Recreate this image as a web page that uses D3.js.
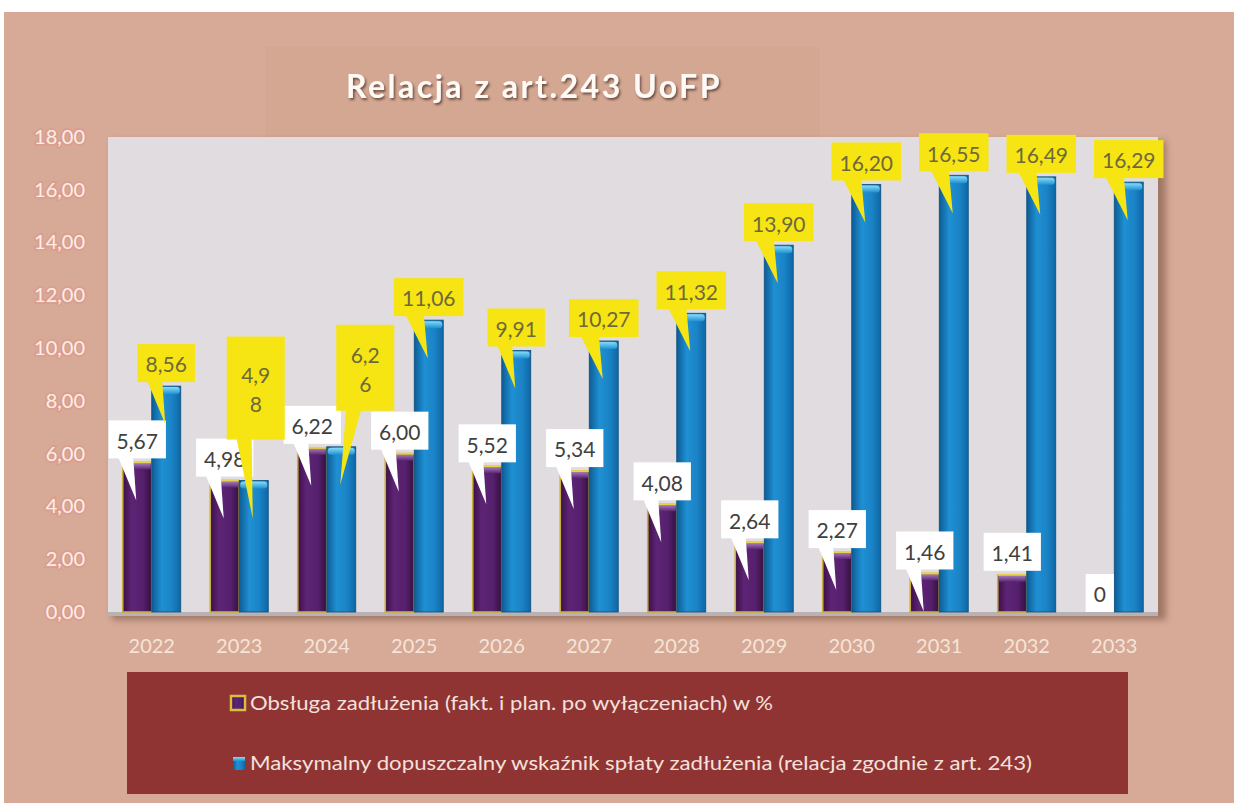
<!DOCTYPE html>
<html>
<head>
<meta charset="utf-8">
<script src="https://cdn.jsdelivr.net/npm/d3@7"></script>
<style>
    body { margin: 0; background: #ffffff; }
    svg text { font-family: Lato, "Open Sans", "DejaVu Sans", sans-serif; }
</style>
</head>
<body>
<svg id="chart" width="1234" height="807"></svg>
<script>
// ---------------------------  DATA  ---------------------------
const years = ['2022', '2023', '2024', '2025', '2026', '2027', '2028', '2029', '2030', '2031', '2032', '2033'];

// Obsługa zadłużenia (fakt. i plan. po wyłączeniach) w %
const obslugaValues = [5.67, 4.98, 6.22, 6.00, 5.52, 5.34, 4.08, 2.64, 2.27, 1.46, 1.41, 0];

// Maksymalny dopuszczalny wskaźnik spłaty zadłużenia
const maxWskaznikValues = [8.56, 4.98, 6.26, 11.06, 9.91, 10.27, 11.32, 13.90, 16.20, 16.55, 16.49, 16.29];

const yTicks = [0, 2, 4, 6, 8, 10, 12, 14, 16, 18];

const seriesNames = [
    'Obsługa zadłużenia (fakt. i plan. po wyłączeniach) w %',
    'Maksymalny dopuszczalny wskaźnik spłaty  zadłużenia (relacja zgodnie z art. 243)'
];

const chartTitle = 'Relacja z art.243 UoFP';

// Hand-placed data labels in the original (wrapped / moved callouts)
const calloutNudges = {
    purple: { '2032': { pointer: false } },
    blue: {
        '2023': { dx: 2, dy: -37, h: 103, wrap: true },
        '2024': { dx: 24, dy: -32, h: 86, wrap: true }
    }
};

// ---------------------------  LAYOUT  ---------------------------
const plot = { left: 108, right: 1158, top: 137, bottom: 612 };
const pairWidth = 58;

const svg = d3.select('#chart');
const defs = svg.append('defs');

function linGrad(id, stops, vertical)
// Add a linear gradient to <defs>; stops are [offset, colour] pairs
{
    const g = defs.append('linearGradient').attr('id', id)
        .attr('x1', 0).attr('y1', 0)
        .attr('x2', vertical ? 0 : 1).attr('y2', vertical ? 1 : 0);
    stops.forEach(s => g.append('stop').attr('offset', s[0]).attr('stop-color', s[1]));
}

linGrad('purpleGrad', [['0%', '#3a0f47'], ['30%', '#5d2475'], ['70%', '#56206d'], ['100%', '#33103e']]);
linGrad('purpleCap', [['0%', '#a27ab8'], ['100%', '#5d2475']], true);
linGrad('blueGrad', [['0%', '#0d5c94'], ['35%', '#1f90d3'], ['70%', '#1a83c5'], ['100%', '#0e67a5']]);
linGrad('blueCap', [['0%', '#86dcf7'], ['100%', '#1f90d3']], true);

const blur = defs.append('filter').attr('id', 'softShadow')
    .attr('x', '-5%').attr('y', '-5%').attr('width', '110%').attr('height', '110%');
blur.append('feGaussianBlur').attr('stdDeviation', 3);

const titleShadow = defs.append('filter').attr('id', 'titleShadow');
titleShadow.append('feDropShadow').attr('dx', 1.5).attr('dy', 2).attr('stdDeviation', 1)
    .attr('flood-color', '#4d3128').attr('flood-opacity', 0.75);

// page background (the scanned slide)
svg.append('rect').attr('x', 4).attr('y', 12).attr('width', 1230).attr('height', 791)
    .attr('fill', '#d6aa96');

// title panel, barely darker than the slide
svg.append('rect').attr('x', 265).attr('y', 47).attr('width', 555).attr('height', 90)
    .attr('fill', '#d3a792');

svg.append('text')
    .attr('x', 534).attr('y', 98)
    .attr('text-anchor', 'middle')
    .style('font-size', '32px').style('font-weight', 700).style('letter-spacing', '2.5px')
    .attr('fill', '#fffaf5')
    .attr('filter', 'url(#titleShadow)')
    .text(chartTitle);

// plot area with shadow and floor
svg.append('rect')
    .attr('x', plot.left + 4).attr('y', plot.top + 4)
    .attr('width', plot.right - plot.left + 4).attr('height', plot.bottom - plot.top + 4)
    .attr('fill', '#8a6252').attr('opacity', 0.7).attr('filter', 'url(#softShadow)');

svg.append('rect')
    .attr('x', plot.left).attr('y', plot.top)
    .attr('width', plot.right - plot.left).attr('height', plot.bottom - plot.top)
    .attr('fill', '#e0dcdf');

svg.append('rect')
    .attr('x', plot.left).attr('y', plot.bottom)
    .attr('width', plot.right - plot.left).attr('height', 4)
    .attr('fill', '#b9b2b4');

// ---------------------------  SCALES  ---------------------------
const x0 = d3.scaleBand().domain(years).range([plot.left, plot.right]);
const x1 = d3.scaleBand().domain(['purple', 'blue']).range([0, pairWidth]);
const y = d3.scaleLinear().domain([0, 18]).range([plot.bottom, plot.top]);

const groupPad = (x0.bandwidth() - pairWidth) / 2;

function barX(year, key) { return x0(year) + groupPad + x1(key); }
function barCenter(year, key) { return barX(year, key) + x1.bandwidth() / 2; }

function fmtValue(v)
// Excel style, comma decimal; zero is printed plain
{
    return v === 0 ? '0' : v.toFixed(2).replace('.', ',');
}

// ---------------------------  AXES  ---------------------------
const yAxis = svg.append('g')
    .attr('transform', `translate(${plot.left},0)`)
    .call(d3.axisLeft(y).tickValues(yTicks).tickSize(0).tickPadding(23)
        .tickFormat(d => d3.format('.2f')(d).replace('.', ',')));
yAxis.select('.domain').remove();
yAxis.selectAll('text')
    .style('font-size', '20px')
    .attr('fill', '#fdeee7')
    .attr('stroke', '#e58d86').attr('stroke-width', 4).attr('stroke-opacity', 0.4)
    .style('paint-order', 'stroke');

const xAxis = svg.append('g')
    .attr('transform', `translate(0,${plot.bottom})`)
    .call(d3.axisBottom(x0).tickSize(0).tickPadding(27));
xAxis.select('.domain').remove();
xAxis.selectAll('text')
    .style('font-size', '20px')
    .attr('fill', '#f7e4d9');

// ---------------------------  BARS  ---------------------------
const purpleData = years.map((yr, i) => ({ year: yr, v: obslugaValues[i] }));
const blueData = years.map((yr, i) => ({ year: yr, v: maxWskaznikValues[i] }));

const bars = svg.append('g').attr('class', 'bars');

const pBars = bars.selectAll('g.purple').data(purpleData.filter(d => d.v > 0)).join('g').attr('class', 'purple');
pBars.append('rect')
    .attr('x', d => barX(d.year, 'purple')).attr('y', d => y(d.v))
    .attr('width', x1.bandwidth()).attr('height', d => y(0) - y(d.v))
    .attr('fill', 'url(#purpleGrad)')
    .attr('stroke', '#c9ae3a').attr('stroke-width', 1.6);
pBars.append('rect')
    .attr('x', d => barX(d.year, 'purple') + 1).attr('y', d => y(d.v) + 1)
    .attr('width', x1.bandwidth() - 2).attr('height', 6)
    .attr('fill', 'url(#purpleCap)');
pBars.append('line')
    .attr('x1', d => barX(d.year, 'purple')).attr('x2', d => barX(d.year, 'purple') + x1.bandwidth())
    .attr('y1', d => y(d.v)).attr('y2', d => y(d.v))
    .attr('stroke', '#e8d24a').attr('stroke-width', 2);

const bBars = bars.selectAll('g.blue').data(blueData).join('g').attr('class', 'blue');
bBars.append('rect')
    .attr('x', d => barX(d.year, 'blue')).attr('y', d => y(d.v))
    .attr('width', x1.bandwidth()).attr('height', d => y(0) - y(d.v))
    .attr('fill', 'url(#blueGrad)')
    .attr('stroke', '#0b4d7d').attr('stroke-width', 0.8);
bBars.append('rect')
    .attr('x', d => barX(d.year, 'blue') + 1).attr('y', d => y(d.v) + 1)
    .attr('width', x1.bandwidth() - 2).attr('height', 7)
    .attr('rx', 3)
    .attr('fill', 'url(#blueCap)');

// ---------------------------  CALLOUTS  ---------------------------
const calloutLayer = svg.append('g').attr('class', 'callouts');

function drawCallout(d, key, style)
/*  Draw one Excel "callout" data label: a box above the bar top with a
    triangular pointer reaching down into the bar
 */
{
    const n = (calloutNudges[key] || {})[d.year] || {};
    const text = fmtValue(d.v);
    const lines = n.wrap ? [text.slice(0, 3), text.slice(3)] : [text];

    const probe = calloutLayer.append('text').style('font-size', '21px').text(lines[0]);
    const tw = probe.node().getComputedTextLength();
    probe.remove();

    const w = n.wrap ? 58 : tw + 16;
    const h = n.h || 38;
    const cBar = barCenter(d.year, key);
    const top = y(d.v);
    const cx = cBar + (n.dx || 0);
    const bottom = d.v === 0 ? top : top - 4 + (n.dy || 0);
    const left = cx - w / 2;

    const g = calloutLayer.append('g');
    if (d.v > 0 && n.pointer !== false) {
        g.append('path')
            .attr('d', `M${left + 0.17 * w},${bottom - 1} L${left + 0.43 * w},${bottom - 1} L${cBar - 1},${top + 38} Z`)
            .attr('fill', style.fill);
    }
    g.append('rect')
        .attr('x', left).attr('y', bottom - h)
        .attr('width', w).attr('height', h)
        .attr('fill', style.fill);

    const gap = 29;
    lines.forEach((ln, k) => {
        g.append('text')
            .attr('x', cx)
            .attr('y', bottom - h / 2 + 2 + (k - (lines.length - 1) / 2) * gap)
            .attr('dy', '0.35em')
            .attr('text-anchor', 'middle')
            .style('font-size', '21px')
            .attr('fill', style.color)
            .text(ln);
    });
}

purpleData.forEach(d => drawCallout(d, 'purple', { fill: '#ffffff', color: '#404040' }));
blueData.forEach(d => drawCallout(d, 'blue', { fill: '#f6e512', color: '#6e693c' }));

// ---------------------------  LEGEND  ---------------------------
const legend = svg.append('g').attr('class', 'legend');
legend.append('rect')
    .attr('x', 127).attr('y', 672).attr('width', 1001).attr('height', 122)
    .attr('fill', '#8f3433');

const legendRows = [
    { name: seriesNames[0], key: 'purple', cy: 703, len: 523 },
    { name: seriesNames[1], key: 'blue', cy: 763, len: 782 }
];

legendRows.forEach(r => {
    if (r.key === 'purple') {
        legend.append('rect')
            .attr('x', 231).attr('y', r.cy - 7).attr('width', 14).attr('height', 14)
            .attr('fill', 'url(#purpleGrad)').attr('stroke', '#d9bd3e').attr('stroke-width', 2.5);
    } else {
        legend.append('rect')
            .attr('x', 233).attr('y', r.cy - 6).attr('width', 12).attr('height', 13)
            .attr('fill', 'url(#blueGrad)');
        legend.append('rect')
            .attr('x', 233).attr('y', r.cy - 6).attr('width', 12).attr('height', 4)
            .attr('fill', 'url(#blueCap)');
    }
    legend.append('text')
        .attr('x', 250).attr('y', r.cy).attr('dy', '0.35em')
        .style('font-size', '20px')
        .attr('fill', '#f4e1dd')
        .attr('textLength', r.len).attr('lengthAdjust', 'spacingAndGlyphs')
        .text(r.name);
});
</script>
</body>
</html>
